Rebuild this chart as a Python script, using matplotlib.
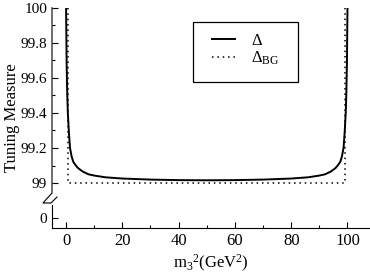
import matplotlib
matplotlib.use("Agg")
import matplotlib.pyplot as plt
from matplotlib.patches import Rectangle

plt.rcParams["font.family"] = "Liberation Serif"
plt.rcParams["mathtext.fontset"] = "custom"
plt.rcParams["mathtext.rm"] = "Liberation Serif"
plt.rcParams["mathtext.it"] = "Liberation Serif:italic"

# Delta krivulja (procijenjeno sa slike)
m3_sq = [0.0, 0.1, 0.2, 0.4, 0.6, 1.0, 1.4, 2.0, 2.6, 3.5, 4.3, 6.0, 8.0, 10.0,
         14.0, 20.0, 30.0, 40.0, 50.0, 60.0, 70.0, 80.0, 86.0, 90.0, 92.0, 94.0,
         95.7, 96.5, 97.4, 98.0, 98.6, 99.0, 99.4, 99.6, 99.8, 99.9, 100.0]
delta = [100.0, 99.85, 99.68, 99.52, 99.41, 99.29, 99.20, 99.15, 99.12, 99.10,
         99.085, 99.065, 99.05, 99.043, 99.033, 99.026, 99.02, 99.017, 99.016,
         99.017, 99.02, 99.026, 99.033, 99.043, 99.05, 99.065, 99.085, 99.10,
         99.12, 99.15, 99.20, 99.29, 99.41, 99.52, 99.68, 99.85, 100.0]

# Delta_BG
m3_sq_bg = [0.8, 0.8, 99.2, 99.2]
delta_bg = [100.0, 99.0, 99.0, 100.0]

y_major = [98.8, 99.0, 99.2, 99.4, 99.6, 99.8, 100.0]
y_labels = ["0", "99", "99.2", "99.4", "99.6", "99.8", "100"]
y_minor = [99.1, 99.3, 99.5, 99.7, 99.9]
x_major = [0, 20, 40, 60, 80, 100]
x_minor = [10, 30, 50, 70, 90]

W, H = 370, 273
L, R, T, B = 52, 370, 7.7, 228

fig = plt.figure(figsize=(W / 100, H / 100), dpi=100)
ax = fig.add_axes([L / W, (H - B) / H, (R - L) / W, (B - T) / H])

ax.plot(m3_sq, delta, color="black", lw=1.4, label=r"$\Delta$")
ax.plot(m3_sq_bg, delta_bg, color="black", lw=1.1, linestyle=(0, (1, 2.5)),
        label=r"$\Delta_{\rm BG}$")

ax.set_xlim(-5, 108)
ax.set_ylim(98.744, 100.0)
ax.set_yticks(y_major)
ax.set_yticklabels(y_labels)
ax.set_yticks(y_minor, minor=True)
ax.set_xticks(x_major)
ax.set_xticks(x_minor, minor=True)
ax.tick_params(which="both", direction="in", width=0.8)
ax.tick_params(axis="y", labelsize=11)
ax.tick_params(axis="x", labelsize=12)
ax.tick_params(which="major", length=4)
ax.tick_params(which="minor", length=2)

for side in ["top", "right", "left"]:
    ax.spines[side].set_visible(False)
ax.spines["bottom"].set_linewidth(0.8)


def to_ax(px, py):
    return (px - L) / (R - L), 1 - (py - T) / (B - T)


# lijeva osa sa prekidom
upper = [to_ax(52, T), to_ax(52, 193), to_ax(43, 203), to_ax(51, 203), to_ax(57, 197)]
lower = [to_ax(52, 205), to_ax(52, B)]
for seg in (upper, lower):
    xs, ys = zip(*seg)
    ax.plot(xs, ys, color="black", lw=0.8, transform=ax.transAxes, clip_on=False)

ax.set_ylabel("Tuning Measure", fontsize=12)
ax.yaxis.set_label_coords(-0.10, 0.5)
ax.set_xlabel(r"m$_3$$^2$(GeV$^2$)", fontsize=12, labelpad=3)

# okvir legende
x0, y0 = to_ax(193, 82)
x1, y1 = to_ax(298, 22)
ax.add_patch(Rectangle((x0, y0), x1 - x0, y1 - y0, transform=ax.transAxes,
                       facecolor="white", edgecolor="black", lw=0.9, zorder=4))

ax.legend(loc="upper left", bbox_to_anchor=to_ax(212, 33), borderaxespad=0,
          borderpad=0, fontsize=12, frameon=False, handlelength=1.38,
          handletextpad=0.96, labelspacing=0.05).set_zorder(5)

fig.savefig("out.png", dpi=100)
